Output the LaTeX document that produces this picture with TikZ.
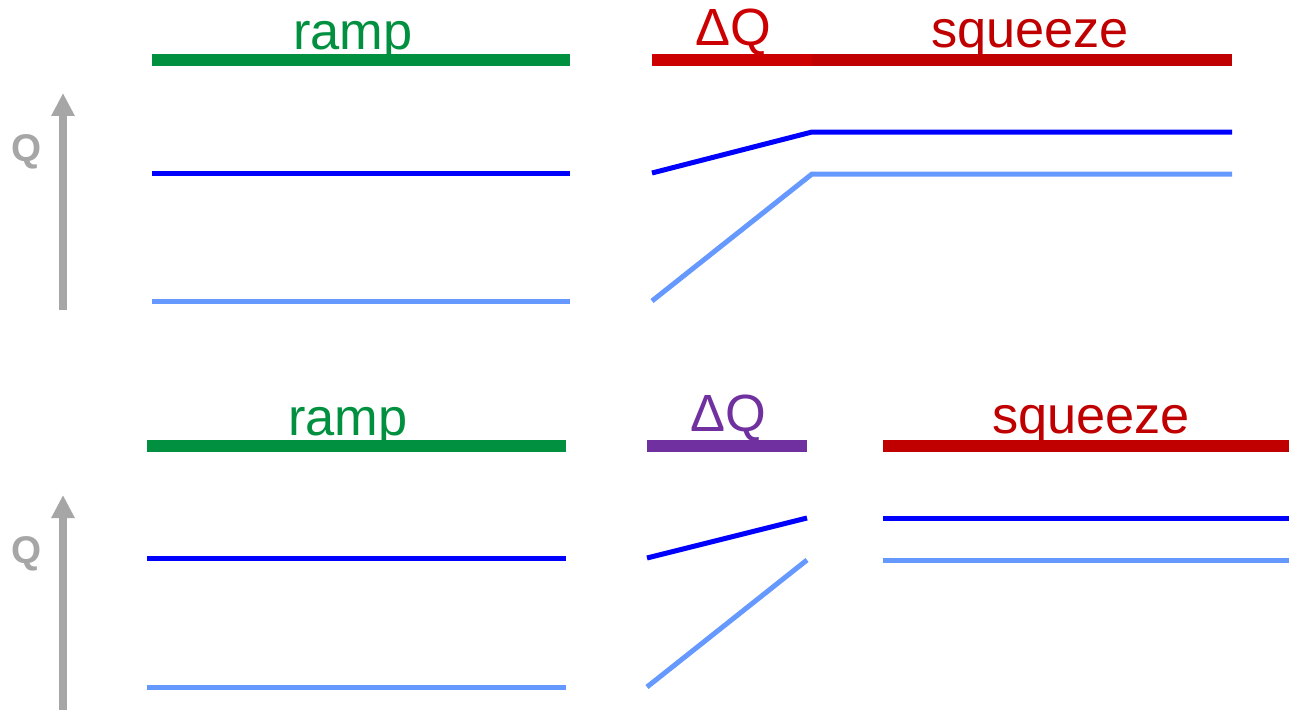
\documentclass[tikz,border=0pt]{standalone}
\usepackage{fontspec}
\setmainfont{Liberation Sans}
\usetikzlibrary{arrows.meta, positioning}

\definecolor{rampgreen}{HTML}{00903F}
\definecolor{dqred}{HTML}{CC0000}
\definecolor{sqred}{HTML}{C00000}
\definecolor{dqpurple}{HTML}{7030A0}
\definecolor{qdark}{HTML}{0000FF}
\definecolor{qlight}{HTML}{6699FF}
\definecolor{axisgray}{HTML}{A6A6A6}

\begin{document}
\begin{tikzpicture}[x=0.02cm, y=-0.02cm, >={Triangle[length=0.46cm, width=0.44cm]},
    bar/.style={line width=0.24cm},
    level/.style={line width=0.1cm},
    phase/.style={anchor=base, inner sep=0pt, font=\fontsize{29.8}{35}\selectfont},
    qaxis/.style={->, draw=axisgray, line width=0.16cm},
    qlabel/.style={anchor=base, inner sep=0pt, text=axisgray, font=\fontsize{22}{26}\selectfont\bfseries}]
    \useasboundingbox (0,0) rectangle (1289,710);

    % top panel
    \coordinate (rampA) at (152,60);
    \coordinate (rampB) at (570,60);
    \coordinate (dqA) at (652,60);
    \coordinate (dqB) at (812,60);
    \coordinate (sqB) at (1232,60);
    \node[phase, text=rampgreen] (ramp) at (353,50) {ramp};
    \node[phase, text=dqred] (dq) at (733,45) {ΔQ};
    \node[phase, text=sqred] (sq) at (1030,48) {squeeze};
    \draw[bar, rampgreen] (rampA) -- (rampB);
    \draw[bar, dqred] (dqA) -- (dqB);
    \draw[bar, sqred] (dqB) -- (sqB);

    \coordinate (hiA) at (152,173);
    \coordinate (hiB) at (570,173);
    \coordinate (hiC) at (652,173);
    \coordinate (hiD) at (812,132);
    \coordinate (hiE) at (1232,132);
    \coordinate (loA) at (152,301);
    \coordinate (loB) at (570,301);
    \coordinate (loC) at (652,301);
    \coordinate (loD) at (812,174);
    \coordinate (loE) at (1232,174);
    \draw[level, qdark] (hiA) -- (hiB);
    \draw[level, qdark] (hiC) -- (hiD) -- (hiE);
    \draw[level, qlight] (loA) -- (loB);
    \draw[level, qlight] (loC) -- (loD) -- (loE);

    \coordinate (axA) at (63,310);
    \coordinate (axB) at (63,93);
    \draw[qaxis] (axA) -- (axB);
    \node[qlabel] (q) at (27,161) {Q};

    % bottom panel
    \coordinate (rampC) at (147,446);
    \coordinate (rampD) at (566,446);
    \coordinate (dqC) at (647,446);
    \coordinate (dqD) at (807,446);
    \coordinate (sqC) at (883,446);
    \coordinate (sqD) at (1289,446);
    \node[phase, text=rampgreen] (ramp2) at (348,435) {ramp};
    \node[phase, text=dqpurple] (dq2) at (728,431) {ΔQ};
    \node[phase, text=sqred] (sq2) at (1091,433) {squeeze};
    \draw[bar, rampgreen] (rampC) -- (rampD);
    \draw[bar, dqpurple] (dqC) -- (dqD);
    \draw[bar, sqred] (sqC) -- (sqD);

    \coordinate (hiF) at (147,558);
    \coordinate (hiG) at (566,558);
    \coordinate (hiH) at (647,558);
    \coordinate (hiI) at (807,518);
    \coordinate (hiJ) at (883,518);
    \coordinate (hiK) at (1289,518);
    \coordinate (loF) at (147,687);
    \coordinate (loG) at (566,687);
    \coordinate (loH) at (647,687);
    \coordinate (loI) at (807,560);
    \coordinate (loJ) at (883,560);
    \coordinate (loK) at (1289,560);
    \draw[level, qdark] (hiF) -- (hiG);
    \draw[level, qdark] (hiH) -- (hiI);
    \draw[level, qdark] (hiJ) -- (hiK);
    \draw[level, qlight] (loF) -- (loG);
    \draw[level, qlight] (loH) -- (loI);
    \draw[level, qlight] (loJ) -- (loK);

    \coordinate (axC) at (63,710);
    \coordinate (axD) at (63,495);
    \draw[qaxis] (axC) -- (axD);
    \node[qlabel] (q2) at (27,563) {Q};
\end{tikzpicture}
\end{document}
